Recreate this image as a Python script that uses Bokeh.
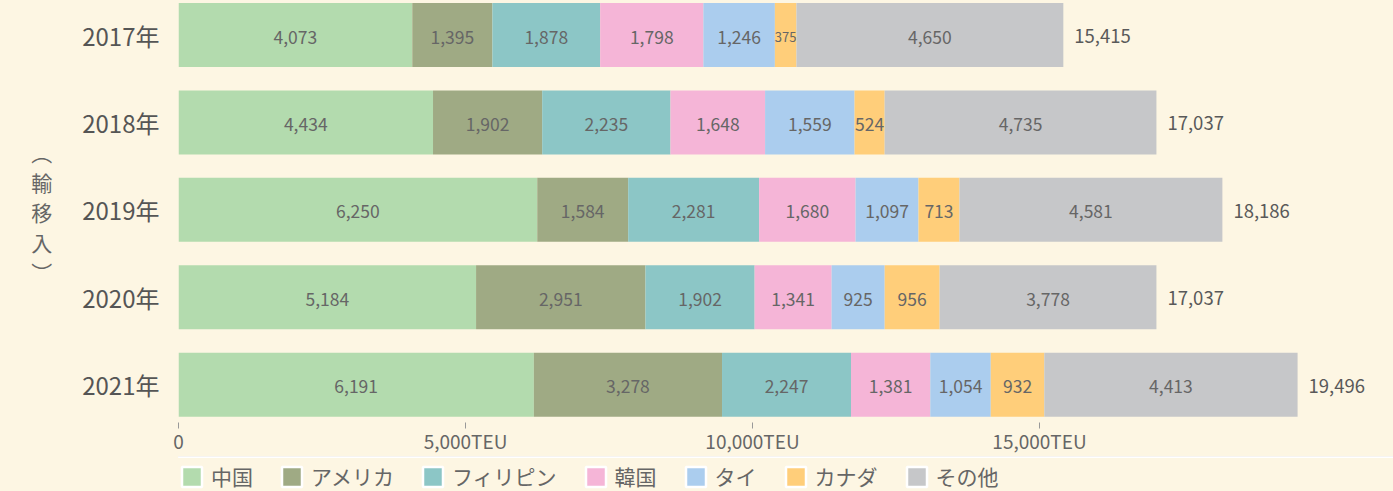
from bokeh.plotting import figure
from bokeh.layouts import column
from bokeh.models import ColumnDataSource, Range1d, FixedTicker, Legend, LegendItem
from bokeh.core.properties import value
from bokeh.embed import file_html
from bokeh.resources import INLINE

years = ["2017年", "2018年", "2019年", "2020年", "2021年"]
countries = ["中国", "アメリカ", "フィリピン", "韓国", "タイ", "カナダ", "その他"]
china = [4073, 4434, 6250, 5184, 6191]
usa = [1395, 1902, 1584, 2951, 3278]
philippines = [1878, 2235, 2281, 1902, 2247]
korea = [1798, 1648, 1680, 1341, 1381]
thailand = [1246, 1559, 1097, 925, 1054]
canada = [375, 524, 713, 956, 932]
other = [4650, 4735, 4581, 3778, 4413]
totals = [15415, 17037, 18186, 17037, 19496]
xticks = [0, 5000, 10000, 15000]
xtick_labels = ["0", "5,000TEU", "10,000TEU", "15,000TEU"]
axis_title = "︵\n輸\n移\n入\n︶"

series = [china, usa, philippines, korea, thailand, canada, other]
colors = ["#B3DBAE", "#9FAA84", "#8CC6C6", "#F5B5D7", "#ABCDEE", "#FFCE7A", "#C6C7C9"]

BG = "#FDF6E3"
FONT = "Noto Sans CJK JP"
FRAME_W = 1215
XMAX = 21167

p = figure(frame_width=FRAME_W, frame_height=422, output_backend="svg", toolbar_location=None,
           x_range=Range1d(0, XMAX), y_range=Range1d(4.433, -0.395),
           min_border_left=178, min_border_right=0, min_border_top=0, min_border_bottom=0,
           background_fill_color=BG, border_fill_color=BG, outline_line_color=None)
p.grid.visible = False

ypos = list(range(len(years)))
left = [0] * len(years)
for vals, col in zip(series, colors):
    right = [l + v for l, v in zip(left, vals)]
    # narrow segments get a smaller label so it fits
    sizes = ["13px" if v * FRAME_W / XMAX < 24 else "17.5px" for v in vals]
    src = ColumnDataSource(dict(y=ypos, left=left, right=right,
                                mid=[(a + b) / 2 for a, b in zip(left, right)],
                                txt=[f"{v:,}" for v in vals], size=sizes))
    p.hbar(y="y", left="left", right="right", height=0.732, source=src,
           fill_color=col, line_color=None)
    p.text(x="mid", y="y", text="txt", source=src, text_align="center",
           text_baseline="middle", text_font=value(FONT), text_font_size="size",
           text_color="#666666", y_offset=2)
    left = right

tsrc = ColumnDataSource(dict(x=totals, y=ypos, txt=[f"{t:,}" for t in totals]))
p.text(x="x", y="y", text="txt", source=tsrc, x_offset=11, y_offset=1, text_align="left",
       text_baseline="middle", text_font=value(FONT), text_font_size="18.5px",
       text_color="#595959")

# axes
p.xaxis.ticker = FixedTicker(ticks=xticks)
p.xaxis.major_label_overrides = {t: l for t, l in zip(xticks, xtick_labels)}
p.xaxis.axis_line_color = None
p.xaxis.minor_tick_line_color = None
p.xaxis.major_tick_in = 0
p.xaxis.major_tick_out = 6
p.xaxis.major_tick_line_color = "#999999"
p.xaxis.major_label_text_font = FONT
p.xaxis.major_label_text_font_size = "19px"
p.xaxis.major_label_text_color = "#666666"
p.xaxis.major_label_standoff = -2

p.yaxis.ticker = FixedTicker(ticks=ypos)
p.yaxis.major_label_overrides = {i: y for i, y in enumerate(years)}
p.yaxis.axis_line_color = None
p.yaxis.major_tick_line_color = None
p.yaxis.minor_tick_line_color = None
p.yaxis.major_label_text_font = FONT
p.yaxis.major_label_text_font_size = "24px"
p.yaxis.major_label_text_color = "#555555"
p.yaxis.major_label_standoff = 13
p.yaxis.axis_label = axis_title
p.yaxis.axis_label_orientation = "horizontal"
p.yaxis.axis_label_standoff = 27
p.yaxis.axis_label_text_font = FONT
p.yaxis.axis_label_text_font_size = "21px"
p.yaxis.axis_label_text_font_style = "normal"
p.yaxis.axis_label_text_color = "#666666"
p.yaxis.axis_label_text_line_height = 1.0

# legend strip
lf = figure(width=178 + FRAME_W, height=35, output_backend="svg", toolbar_location=None,
            x_range=Range1d(0, 1), y_range=Range1d(0, 1),
            x_axis_type=None, y_axis_type=None, min_border=0,
            background_fill_color=BG, border_fill_color=BG, outline_line_color=None)
lf.grid.visible = False
items = []
for name, col in zip(countries, colors):
    # one swatch bar kept outside the visible range: only its legend entry shows
    r = lf.hbar(y=[5], left=[0], right=[1], height=0.5, fill_color=col,
                line_color="white", line_width=2.5)
    items.append(LegendItem(label=name, renderers=[r]))
legend = Legend(items=items, orientation="horizontal", location=(1, 0),
                glyph_width=25, glyph_height=25, label_standoff=7, spacing=26,
                label_text_font=FONT, label_text_font_size="21px",
                label_text_color="#666666", border_line_color=None,
                background_fill_alpha=0, margin=0, padding=2)
lf.add_layout(legend, "center")

layout = column(p, lf, spacing=0, styles={"background-color": BG})
open("out.html", "w").write(file_html(layout, INLINE))
